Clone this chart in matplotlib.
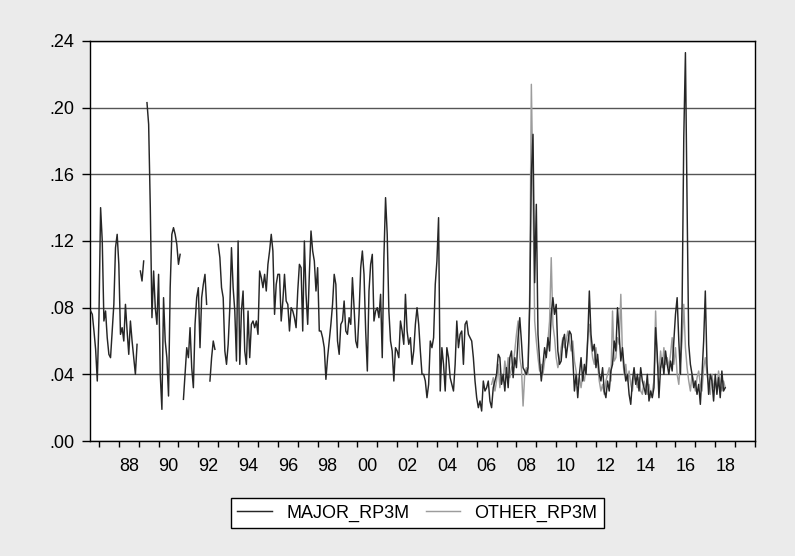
import numpy as np
import pandas as pd
import matplotlib
matplotlib.use("Agg")
import matplotlib.pyplot as plt
from matplotlib.ticker import FixedLocator, FuncFormatter

nan = np.nan

major_start = "1986-08"
major_rp3m = [
    0.078, 0.076, 0.066, 0.055, 0.036,                                                # 1986
    0.074, 0.140, 0.120, 0.072, 0.078, 0.062, 0.052, 0.050, 0.066, 0.082, 0.116, 0.124,  # 1987
    0.106, 0.064, 0.068, 0.060, 0.082, 0.066, 0.052, 0.072, 0.060, 0.050, 0.040, 0.058,  # 1988
    nan, 0.102, 0.096, 0.108, nan, 0.203, 0.190, 0.140, 0.074, 0.102, 0.080, 0.070,      # 1989
    0.100, 0.040, 0.019, 0.086, 0.060, 0.050, 0.027, 0.092, 0.124, 0.128, 0.124, 0.118,  # 1990
    0.106, 0.112, nan, 0.025, 0.040, 0.056, 0.050, 0.068, 0.044, 0.032, 0.070, 0.086,    # 1991
    0.092, 0.056, 0.086, 0.094, 0.100, 0.082, nan, 0.036, 0.050, 0.060, 0.055, nan,      # 1992
    0.118, 0.110, 0.092, 0.086, 0.054, 0.046, 0.058, 0.080, 0.116, 0.092, 0.078, 0.048,  # 1993
    0.120, 0.046, 0.078, 0.090, 0.054, 0.046, 0.078, 0.050, 0.070, 0.072, 0.068, 0.072,  # 1994
    0.064, 0.102, 0.098, 0.092, 0.100, 0.090, 0.106, 0.114, 0.124, 0.114, 0.076, 0.094,  # 1995
    0.100, 0.100, 0.072, 0.084, 0.100, 0.084, 0.082, 0.066, 0.080, 0.078, 0.074, 0.068,  # 1996
    0.090, 0.106, 0.104, 0.066, 0.120, 0.088, 0.070, 0.100, 0.126, 0.114, 0.108, 0.090,  # 1997
    0.104, 0.066, 0.066, 0.062, 0.056, 0.037, 0.050, 0.060, 0.070, 0.082, 0.100, 0.094,  # 1998
    0.060, 0.052, 0.070, 0.072, 0.084, 0.066, 0.064, 0.074, 0.070, 0.098, 0.080, 0.060,  # 1999
    0.056, 0.076, 0.104, 0.114, 0.100, 0.066, 0.042, 0.090, 0.106, 0.112, 0.072, 0.078,  # 2000
    0.080, 0.074, 0.088, 0.050, 0.110, 0.146, 0.124, 0.078, 0.060, 0.054, 0.036, 0.056,  # 2001
    0.054, 0.050, 0.072, 0.066, 0.058, 0.088, 0.066, 0.058, 0.062, 0.046, 0.054, 0.070,  # 2002
    0.080, 0.070, 0.054, 0.040, 0.040, 0.036, 0.026, 0.034, 0.060, 0.056, 0.062, 0.094,  # 2003
    0.108, 0.134, 0.030, 0.056, 0.046, 0.030, 0.056, 0.050, 0.038, 0.034, 0.030, 0.046,  # 2004
    0.072, 0.056, 0.064, 0.066, 0.046, 0.070, 0.072, 0.064, 0.062, 0.060, 0.050, 0.036,  # 2005
    0.026, 0.020, 0.024, 0.018, 0.036, 0.030, 0.032, 0.036, 0.024, 0.020, 0.032, 0.036,  # 2006
    0.040, 0.052, 0.050, 0.034, 0.040, 0.030, 0.044, 0.032, 0.050, 0.054, 0.038, 0.050,  # 2007
    0.044, 0.062, 0.074, 0.060, 0.044, 0.042, 0.040, 0.044, 0.080, 0.160, 0.184, 0.095,  # 2008
    0.142, 0.064, 0.048, 0.036, 0.046, 0.056, 0.050, 0.062, 0.054, 0.076, 0.086, 0.076,  # 2009
    0.082, 0.054, 0.046, 0.048, 0.060, 0.064, 0.050, 0.058, 0.066, 0.064, 0.050, 0.030,  # 2010
    0.040, 0.026, 0.040, 0.050, 0.036, 0.046, 0.040, 0.060, 0.090, 0.064, 0.054, 0.058,  # 2011
    0.044, 0.052, 0.040, 0.036, 0.044, 0.030, 0.026, 0.036, 0.030, 0.042, 0.046, 0.060,  # 2012
    0.054, 0.080, 0.064, 0.048, 0.056, 0.044, 0.036, 0.040, 0.028, 0.022, 0.036, 0.044,  # 2013
    0.034, 0.040, 0.030, 0.044, 0.036, 0.032, 0.028, 0.040, 0.024, 0.030, 0.026, 0.032,  # 2014
    0.068, 0.052, 0.026, 0.044, 0.050, 0.040, 0.054, 0.046, 0.040, 0.048, 0.042, 0.060,  # 2015
    0.076, 0.086, 0.060, 0.040, 0.082, 0.182, 0.233, 0.142, 0.058, 0.046, 0.040, 0.032,  # 2016
    0.036, 0.028, 0.034, 0.022, 0.040, 0.060, 0.090, 0.046, 0.028, 0.040, 0.036, 0.024,  # 2017
    0.040, 0.028, 0.038, 0.026, 0.042, 0.030, 0.032,                                     # 2018
]

other_start = "2006-10"
other_rp3m = [
    0.034, 0.038, 0.030,                                                                 # 2006
    0.036, 0.046, 0.032, 0.040, 0.036, 0.048, 0.040, 0.050, 0.038, 0.044, 0.046, 0.054,  # 2007
    0.064, 0.072, 0.050, 0.044, 0.021, 0.040, 0.044, 0.040, 0.090, 0.214, 0.150, 0.072,  # 2008
    0.060, 0.050, 0.042, 0.046, 0.040, 0.048, 0.052, 0.060, 0.072, 0.110, 0.070, 0.062,  # 2009
    0.050, 0.044, 0.048, 0.056, 0.062, 0.056, 0.060, 0.066, 0.060, 0.054, 0.060, 0.048,  # 2010
    0.042, 0.034, 0.038, 0.032, 0.040, 0.036, 0.044, 0.062, 0.070, 0.058, 0.050, 0.046,  # 2011
    0.056, 0.046, 0.036, 0.030, 0.034, 0.028, 0.036, 0.040, 0.044, 0.036, 0.078, 0.048,  # 2012
    0.050, 0.062, 0.058, 0.088, 0.052, 0.040, 0.046, 0.036, 0.042, 0.034, 0.030, 0.040,  # 2013
    0.036, 0.032, 0.038, 0.030, 0.028, 0.036, 0.032, 0.028, 0.034, 0.026, 0.030, 0.036,  # 2014
    0.078, 0.048, 0.040, 0.054, 0.044, 0.056, 0.046, 0.050, 0.044, 0.052, 0.062, 0.046,  # 2015
    0.056, 0.040, 0.034, 0.048, 0.060, 0.082, 0.056, 0.044, 0.036, 0.030, 0.040, 0.036,  # 2016
    0.030, 0.038, 0.042, 0.034, 0.030, 0.044, 0.050, 0.040, 0.034, 0.028, 0.040, 0.032,  # 2017
    0.036, 0.030, 0.042, 0.034, 0.030, 0.036, 0.032,                                     # 2018
]

y_ticks = [0.00, 0.04, 0.08, 0.12, 0.16, 0.20, 0.24]
label_years = list(range(1988, 2019, 2))
tick_years = list(range(1987, 2021))


def decimal_years(start, n):
    d = pd.date_range(start, periods=n, freq="MS")
    return np.asarray(d.year + (d.month - 1) / 12.0)


x_major = decimal_years(major_start, len(major_rp3m))
x_other = decimal_years(other_start, len(other_rp3m))

plt.rcParams["font.family"] = ["Liberation Sans", "DejaVu Sans"]

fig = plt.figure(figsize=(7.95, 5.56), dpi=100, facecolor="#ebebeb")
ax = fig.add_axes([0.1132, 0.2068, 0.8365, 0.7195])
ax.set_facecolor("white")

ax.plot(x_other, other_rp3m, color="#9c9c9c", lw=1.05, zorder=2, label="OTHER_RP3M")
ax.plot(x_major, major_rp3m, color="#262626", lw=1.05, zorder=3, label="MAJOR_RP3M")

ax.set_xlim(1986.55, 2020.0)
ax.set_ylim(0, 0.24)

ax.set_yticks(y_ticks)
ax.yaxis.set_major_formatter(FuncFormatter(lambda v, p: f"{v:.2f}".lstrip("0")))
ax.yaxis.grid(True, color="#555555", lw=1.0)
ax.set_axisbelow(True)

ax.xaxis.set_minor_locator(FixedLocator(tick_years))
ax.xaxis.set_major_locator(FixedLocator([y + 0.5 for y in label_years]))
ax.xaxis.set_major_formatter(FuncFormatter(lambda v, p: f"{int(v) % 100:02d}"))

ax.tick_params(axis="y", direction="out", length=6, width=1, labelsize=13, pad=5)
ax.tick_params(axis="x", which="major", length=0, labelsize=13, pad=12)
ax.tick_params(axis="x", which="minor", direction="out", length=4.5, width=1)

for s in ax.spines.values():
    s.set_color("black")
    s.set_linewidth(1.0)

h, l = ax.get_legend_handles_labels()
leg = fig.legend(h[::-1], l[::-1], loc="center", bbox_to_anchor=(0.525, 0.077),
                 ncol=2, fontsize=13, frameon=True, fancybox=False,
                 edgecolor="black", framealpha=1, handlelength=1.9,
                 handletextpad=0.8, columnspacing=0.9, borderpad=0.35)
leg.get_frame().set_linewidth(1.0)

fig.savefig("out.png", dpi=100, facecolor=fig.get_facecolor())
